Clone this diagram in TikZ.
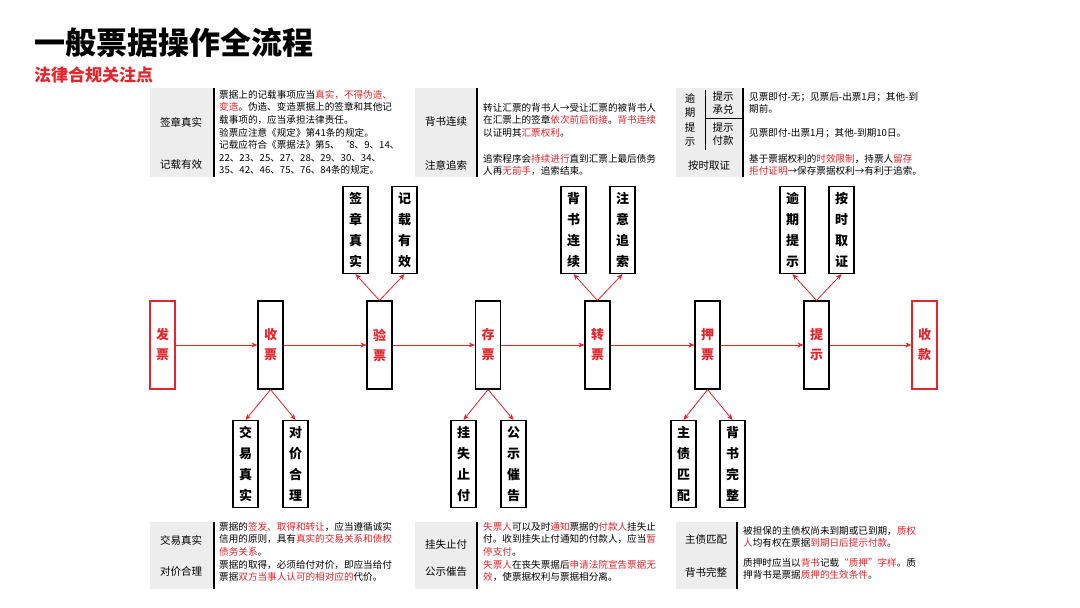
\documentclass[tikz,border=0pt]{standalone}
\usepackage{fontspec}
\setmainfont{Noto Sans CJK SC}
\usetikzlibrary{arrows.meta}
\definecolor{rd}{HTML}{E3262C}
\definecolor{gbg}{HTML}{EDEDED}
\newcommand{\R}[1]{\textcolor{rd}{#1}}
\tikzset{
 mainbox/.style={draw=black,line width=1.2pt,minimum width=25pt,minimum height=88pt,inner sep=0pt,font=\bfseries\fontsize{13}{20}\selectfont,text=rd,align=center},
 redbox/.style={mainbox,draw=rd},
 subbox/.style={draw=black,line width=1.2pt,minimum width=25pt,minimum height=87pt,inner sep=0pt,font=\bfseries\fontsize{13}{21}\selectfont,align=center},
 flow/.style={draw=rd,line width=0.8pt,-{Stealth[length=6pt,width=5pt]}},
 grey/.style={fill=gbg,draw=none},
 lbl/.style={font=\fontsize{10.5}{12}\selectfont,inner sep=0pt},
 txt/.style={font=\fontsize{9.6}{12.6}\selectfont,anchor=north west,align=left,inner sep=0pt},
 sep/.style={draw=black,line width=1.3pt}
}
\begin{document}
\begin{tikzpicture}[x=1pt,y=-1pt]
\useasboundingbox[fill=white] (0,0) rectangle (1080,608);
\node[anchor=west,font=\bfseries\fontsize{31}{34}\selectfont,inner sep=0pt] (title) at (34,43) {一般票据操作全流程};
\node[anchor=west,font=\bfseries\fontsize{17}{19}\selectfont,text=rd,inner sep=0pt] (sub) at (34,75) {法律合规关注点};

% main flow
\node[redbox] (fa) at (162.5,345) {发\\票};
\node[mainbox] (shou) at (270.5,345) {收\\票};
\node[mainbox] (yan) at (379.5,345) {验\\票};
\node[mainbox] (cun) at (488,345) {存\\票};
\node[mainbox] (zhuan) at (597.5,345) {转\\票};
\node[mainbox] (ya) at (707.5,345) {押\\票};
\node[mainbox] (ti) at (816.5,345) {提\\示};
\node[redbox] (kuan) at (924.5,345) {收\\款};
\foreach \a/\b in {fa/shou,shou/yan,yan/cun,cun/zhuan,zhuan/ya,ya/ti,ti/kuan}
  \draw[flow] (\a) -- (\b);

% top children
\node[subbox] (qz) at (355.5,230) {签\\章\\真\\实};
\node[subbox] (jz) at (404.5,230) {记\\载\\有\\效};
\node[subbox] (bs) at (573.5,230) {背\\书\\连\\续};
\node[subbox] (zy) at (622.5,230) {注\\意\\追\\索};
\node[subbox] (yq) at (792.5,230) {逾\\期\\提\\示};
\node[subbox] (as) at (841.5,230) {按\\时\\取\\证};
\foreach \p/\c in {yan/qz,yan/jz,zhuan/bs,zhuan/zy,ti/yq,ti/as}
  \draw[flow] (\p.north) -- (\c.south);

% bottom children
\node[subbox] (jy) at (245.5,464) {交\\易\\真\\实};
\node[subbox] (dj) at (295.5,464) {对\\价\\合\\理};
\node[subbox] (gs) at (463.5,464) {挂\\失\\止\\付};
\node[subbox] (gg) at (513.5,464) {公\\示\\催\\告};
\node[subbox] (zz) at (683.5,464) {主\\债\\匹\\配};
\node[subbox] (bw) at (732.5,464) {背\\书\\完\\整};
\foreach \p/\c in {shou/jy,shou/dj,cun/gs,cun/gg,ya/zz,ya/bw}
  \draw[flow] (\p.south) -- (\c.north);

% top-left table
\fill[grey] (150,88) rectangle (213,177);
\draw[sep] (214,88) -- (214,177);
\node[lbl] (t1a) at (181,122) {签章真实};
\node[lbl] (t1b) at (181,165) {记载有效};
\node[txt] (t1t) at (219,90) {票据上的记载事项应当\R{真实，不得伪造、}\\\R{变造}。伪造、变造票据上的签章和其他记\\载事项的，应当承担法律责任。\\验票应注意《规定》第41条的规定。\\记载应符合《票据法》第5、`8、9、14、\\22、23、25、27、28、29、30、34、\\35、42、46、75、76、84条的规定。};

% top-middle table
\fill[grey] (415,88) rectangle (476,177);
\draw[sep] (477,88) -- (477,177);
\node[lbl] (t2a) at (446,122) {背书连续};
\node[lbl] (t2b) at (446,165) {注意追索};
\node[txt] (t2t) at (483,103) {转让汇票的背书人→受让汇票的被背书人\\在汇票上的签章\R{依次前后衔接}。\R{背书连续}\\以证明其\R{汇票权利}。};
\node[txt] (t2u) at (483,154) {追索程序会\R{持续进行}直到汇票上最后债务\\人再\R{无前手}，追索结束。};

% top-right table
\fill[grey] (676,88) rectangle (742,177);
\draw[sep] (743,88) -- (743,177);
\draw[line width=0.8pt] (705,90) -- (705,150);
\draw[line width=0.8pt] (705,118) -- (742,118);
\node[lbl,align=center,font=\fontsize{10.5}{14.5}\selectfont] (t3a) at (690,120) {逾\\期\\提\\示};
\node[lbl,align=center,font=\fontsize{10.5}{12.5}\selectfont] (t3b) at (723,103) {提示\\承兑};
\node[lbl,align=center,font=\fontsize{10.5}{12.5}\selectfont] (t3c) at (723,134) {提示\\付款};
\node[lbl] (t3d) at (709,165) {按时取证};
\node[txt] (t3t) at (749,92) {见票即付-无；见票后-出票1月；其他-到\\期前。};
\node[txt] (t3u) at (749,128) {见票即付-出票1月；其他-到期10日。};
\node[txt] (t3v) at (749,154) {基于票据权利的\R{时效限制}，持票人\R{留存}\\\R{拒付证明}→保存票据权利→有利于追索。};

% bottom-left table
\fill[grey] (150,522) rectangle (213,589);
\draw[sep] (214,522) -- (214,589);
\node[lbl] (b1a) at (181,540) {交易真实};
\node[lbl] (b1b) at (181,572) {对价合理};
\node[txt] (b1t) at (219,522) {票据的\R{签发、取得和转让}，应当遵循诚实\\信用的原则，具有\R{真实的交易关系和债权}\\\R{债务关系}。\\票据的取得，必须给付对价，即应当给付\\票据\R{双方当事人认可的相对应的}代价。};

% bottom-middle table
\fill[grey] (415,522) rectangle (476,589);
\draw[sep] (477,522) -- (477,589);
\node[lbl] (b2a) at (446,545) {挂失止付};
\node[lbl] (b2b) at (446,572) {公示催告};
\node[txt] (b2t) at (483,522) {\R{失票人}可以及时\R{通知}票据的\R{付款人}挂失止\\付。收到挂失止付通知的付款人，应当\R{暂}\\\R{停支付}。\\\R{失票人}在丧失票据后\R{申请法院宣告票据无}\\\R{效}，使票据权利与票据相分离。};

% bottom-right table
\fill[grey] (676,522) rectangle (736,589);
\draw[sep] (737,522) -- (737,589);
\node[lbl] (b3a) at (706,540) {主债匹配};
\node[lbl] (b3b) at (706,572) {背书完整};
\node[txt] (b3t) at (743,526) {被担保的主债权尚未到期或已到期，\R{质权}\\\R{人}均有权在票据\R{到期日后提示付款}。};
\node[txt] (b3u) at (743,558) {质押时应当以\R{背书}记载\R{“质押”字样}。质\\押背书是票据\R{质押的生效条件}。};
\end{tikzpicture}
\end{document}
